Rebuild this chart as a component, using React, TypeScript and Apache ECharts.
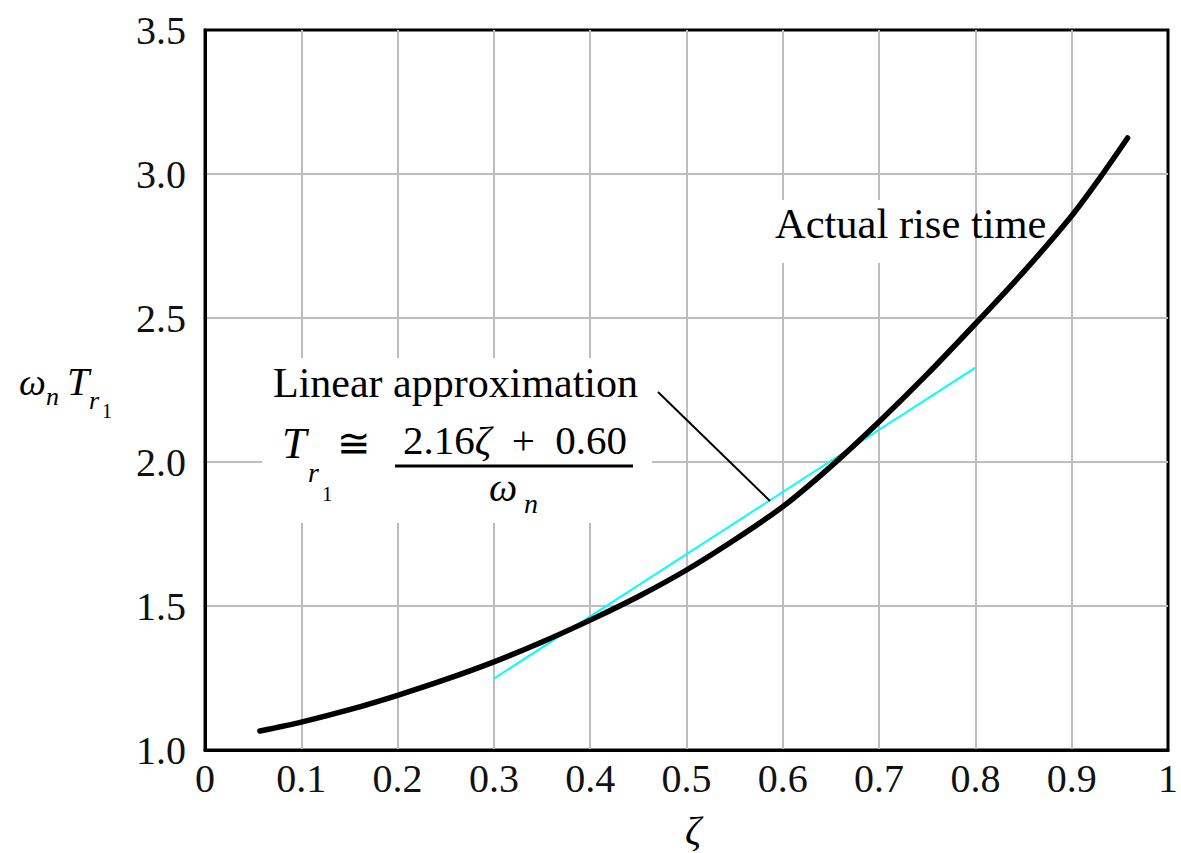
import React, { useEffect, useRef } from "react";
import * as echarts from "echarts";

// Normalized rise time ωn·Tr1 versus damping ratio ζ
const zetaValues = [0.057, 0.1, 0.15, 0.2, 0.25, 0.3, 0.35, 0.4, 0.45, 0.5, 0.55, 0.6, 0.65, 0.7, 0.75, 0.8, 0.85, 0.9, 0.93, 0.958];
const riseTimeValues = [1.066, 1.097, 1.14, 1.19, 1.245, 1.306, 1.375, 1.451, 1.533, 1.625, 1.73, 1.845, 1.985, 2.14, 2.305, 2.48, 2.66, 2.855, 2.99, 3.125];

// Linear approximation 2.16ζ + 0.60, drawn between ζ = 0.3 and ζ = 0.8
const approxZeta = [0.3, 0.8];
const approxValues = [1.248, 2.328];

const xTickLabels: Record<string, string> = { "0": "0", "1": "1" };

const SERIF = "'Liberation Serif', 'Times New Roman', 'DejaVu Serif', serif";

export default function App() {
  const ref = useRef<HTMLDivElement>(null);

  useEffect(() => {
    if (!ref.current) return;
    const chart = echarts.init(ref.current, undefined, { renderer: "svg" });

    const txt = (text: string, x: number, y: number, size: number, italic = false, align = "left", z = 10) => ({
      type: "text",
      x,
      y,
      z,
      style: {
        text,
        fontFamily: SERIF,
        fontSize: size,
        fontStyle: italic ? "italic" : "normal",
        fill: "#000",
        align,
        verticalAlign: "middle",
      },
    });

    chart.setOption({
      animation: false,
      backgroundColor: "#fff",
      grid: {
        left: 205,
        right: 11,
        top: 30,
        bottom: 103,
        show: true,
        borderColor: "#000",
        borderWidth: 3,
        backgroundColor: "transparent",
      },
      xAxis: {
        type: "value",
        min: 0,
        max: 1,
        interval: 0.1,
        axisLine: { show: true, lineStyle: { color: "#000", width: 3 } },
        axisTick: { show: false },
        splitLine: { show: true, showMinLine: false, showMaxLine: false, lineStyle: { color: "#bdbdbd", width: 2 } },
        axisLabel: {
          margin: 8,
          fontFamily: SERIF,
          fontSize: 40,
          color: "#111",
          formatter: (v: number) => {
            const k = String(Math.round(v * 10) / 10);
            return xTickLabels[k] ?? v.toFixed(1);
          },
        },
      },
      yAxis: {
        type: "value",
        min: 1,
        max: 3.5,
        interval: 0.5,
        axisLine: { show: true, lineStyle: { color: "#000", width: 3 } },
        axisTick: { show: false },
        splitLine: { show: true, showMinLine: false, showMaxLine: false, lineStyle: { color: "#bdbdbd", width: 2 } },
        axisLabel: {
          margin: 19,
          fontFamily: SERIF,
          fontSize: 40,
          color: "#111",
          formatter: (v: number) => v.toFixed(1),
        },
      },
      series: [
        {
          type: "line",
          name: "Linear approximation",
          data: approxZeta.map((z, i) => [z, approxValues[i]]),
          showSymbol: false,
          lineStyle: { color: "#00ffff", width: 2 },
          z: 3,
        },
        {
          type: "line",
          name: "Actual rise time",
          data: zetaValues.map((z, i) => [z, riseTimeValues[i]]),
          showSymbol: false,
          smooth: 0.25,
          lineStyle: { color: "#000", width: 5.5, cap: "round" },
          z: 4,
        },
      ],
      graphic: [
        // white boxes behind the annotations
        { type: "rect", z: 1, shape: { x: 262, y: 358, width: 390, height: 165 }, style: { fill: "#fff" } },
        { type: "rect", z: 1, shape: { x: 765, y: 200, width: 210, height: 63 }, style: { fill: "#fff" } },

        txt("Actual rise time", 775, 223, 42.5),
        txt("Linear approximation", 273, 383, 42),
        { type: "line", z: 10, shape: { x1: 658, y1: 392, x2: 770, y2: 501 }, style: { stroke: "#000", lineWidth: 2 } },

        // T_r1 ≅ (2.16ζ + 0.60) / ωn
        txt("T", 282, 443, 44, true),
        txt("r", 308, 472, 28, true),
        txt("1", 322, 494, 21),
        txt("≅", 354, 443, 40, false, "center"),
        {
          type: "text",
          z: 10,
          x: 515,
          y: 440,
          style: {
            text: "{a|2.16}{b|ζ}{a|  +  0.60}",
            align: "center",
            verticalAlign: "middle",
            rich: {
              a: { fontFamily: SERIF, fontSize: 41, fill: "#000" },
              b: { fontFamily: SERIF, fontSize: 41, fontStyle: "italic", fill: "#000" },
            },
          },
        },
        { type: "line", z: 10, shape: { x1: 395, y1: 466, x2: 633, y2: 466 }, style: { stroke: "#000", lineWidth: 3 } },
        txt("ω", 489, 487, 40, true),
        txt("n", 524, 503, 28, true),

        // y-axis title ωn Tr1
        txt("ω", 19, 382, 38, true),
        txt("n", 46, 396, 26, true),
        txt("T", 67, 381, 40, true),
        txt("r", 89, 400, 26, true),
        txt("1", 102, 411, 20),

        // x-axis title ζ
        txt("ζ", 693, 830, 40, true, "center"),
      ],
    });

    return () => chart.dispose();
  }, []);

  return (
    <div
      ref={ref}
      style={{ position: "fixed", left: 0, top: 0, width: 1181, height: 853, background: "#fff" }}
    />
  );
}
